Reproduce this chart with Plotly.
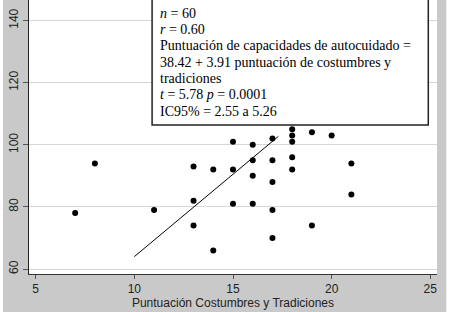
import plotly.graph_objects as go

# Data
x_vals = [7, 8, 11, 13, 13, 13, 14, 14, 15, 15, 15, 16, 16, 16, 16,
          17, 17, 17, 17, 17, 18, 18, 18, 18, 18, 19, 19, 20, 21, 21]
y_vals = [78, 94, 79, 93, 82, 74, 92, 66, 101, 92, 81, 100, 95, 90, 81,
          102, 95, 88, 79, 70, 105, 103, 101, 96, 92, 104, 74, 103, 94, 84]
fit_x = [10, 17.3]
fit_y = [64, 102.7]
x_ticks = [5, 10, 15, 20, 25]
y_ticks = [60, 80, 100, 120, 140]
box_lines = [
    "<i>n</i> = 60",
    "<i>r</i> = 0.60",
    "Puntuación de capacidades de autocuidado =",
    "38.42 + 3.91 puntuación de costumbres y",
    "tradiciones",
    "<i>t</i> = 5.78 <i>p</i> = 0.0001",
    "IC95% = 2.55 a 5.26",
]
x_title = "Puntuación Costumbres y Tradiciones"

GRAY = "#c9c9c9"
PLOT_H = 274
PLOT_W = 407.7
ML = 29

fig = go.Figure()
fig.add_trace(go.Scatter(x=x_vals, y=y_vals, mode="markers",
                         marker=dict(color="black", size=6), showlegend=False))
fig.add_trace(go.Scatter(x=fit_x, y=fit_y, mode="lines",
                         line=dict(color="black", width=1), showlegend=False))

def px_x(p):
    return (p - ML) / PLOT_W

def px_y(p):
    return (PLOT_H - p) / PLOT_H

shapes = [
    # annotation box
    dict(type="rect", xref="paper", yref="paper",
         x0=px_x(152), x1=px_x(428), y0=px_y(125), y1=px_y(-20),
         fillcolor="white", line=dict(color="#222", width=1.5), layer="above"),
    # white page edges
    dict(type="rect", xref="paper", yref="paper",
         x0=px_x(446), x1=px_x(455), y0=px_y(320), y1=px_y(-10),
         fillcolor="white", line=dict(width=0), layer="below"),
    dict(type="rect", xref="paper", yref="paper",
         x0=px_x(-5), x1=px_x(3), y0=px_y(320), y1=px_y(-10),
         fillcolor="white", line=dict(width=0), layer="below"),
]

annotations = []
for i, t in enumerate(box_lines):
    annotations.append(dict(
        text=t, xref="paper", yref="paper", x=px_x(158), y=px_y(13.3 + 16.3 * i),
        xanchor="left", yanchor="middle", showarrow=False, align="left",
        font=dict(family="Liberation Serif", size=14, color="black")))

fig.update_layout(
    width=450, height=312,
    margin=dict(l=ML, r=450 - ML - PLOT_W, t=0, b=312 - PLOT_H),
    paper_bgcolor=GRAY, plot_bgcolor="white",
    font=dict(family="Liberation Sans", size=12, color="#222"),
    shapes=shapes, annotations=annotations,
    xaxis=dict(range=[4.66, 25.34], tickvals=x_ticks, showgrid=False, zeroline=False,
               showline=True, linecolor="#333", linewidth=1,
               ticks="outside", ticklen=4, tickcolor="#555",
               tickfont=dict(size=12),
               title=dict(text=x_title, font=dict(size=12), standoff=2)),
    yaxis=dict(range=[58.4, 146.6], tickvals=y_ticks, showgrid=True,
               gridcolor="#d6d6d6", gridwidth=1, zeroline=False,
               showline=True, linecolor="#222", linewidth=1,
               ticks="outside", ticklen=5, tickcolor="#555",
               tickangle=-90, tickfont=dict(size=12)),
)

fig.write_html("out.html", config={"displayModeBar": False},
               post_script="document.body.style.margin='0';")
